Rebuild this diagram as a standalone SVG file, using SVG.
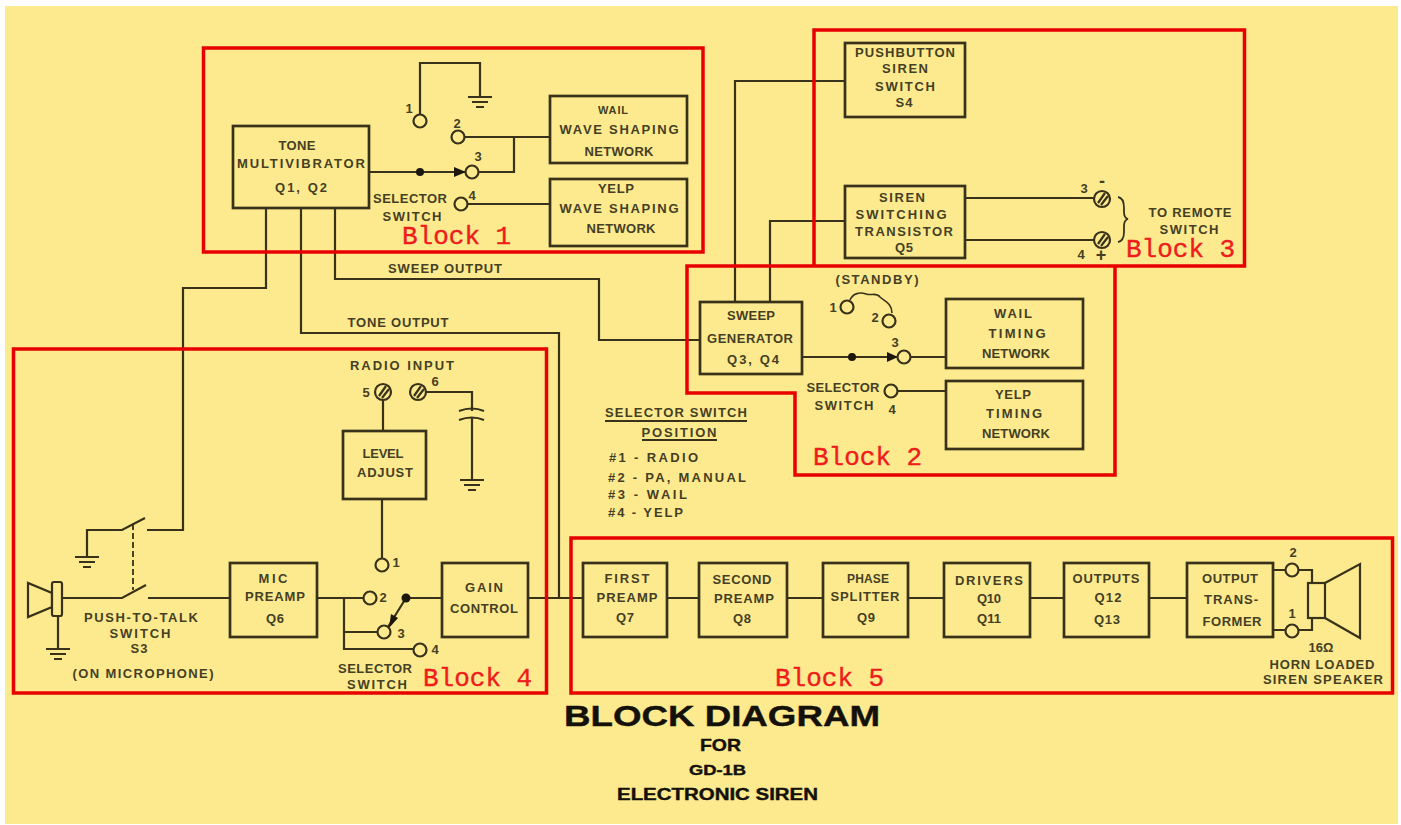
<svg xmlns="http://www.w3.org/2000/svg" width="1401" height="825" viewBox="0 0 1401 825">
<style>
.b{fill:none;stroke:#38321a;stroke-width:2.7}
.w{fill:none;stroke:#38321a;stroke-width:2.2;stroke-linejoin:miter}
.c{fill:#fdea8e;stroke:#38321a;stroke-width:2.2}
.d{fill:#1c180c}
.r{fill:none;stroke:#e80000;stroke-width:3.5}
text{font-family:"Liberation Sans",Arial,sans-serif;font-weight:700;font-size:13px;fill:#453f24;text-anchor:middle}
text.l{text-anchor:start}
text.k{font-family:"Liberation Mono","Courier New",monospace;font-weight:400;font-size:26px;fill:#ee1c1c;stroke:#ee1c1c;stroke-width:.4;text-anchor:start}
text.t{fill:#14110a;stroke:#14110a;stroke-width:.4;text-anchor:start}
</style>
<defs>
<g id="gnd"><path class="w" d="M-12 0H12M-8 5H8M-4 10H4"/></g>
<g id="screw"><circle class="c" r="8"/><path class="w" d="M-4 4L3-6M-1 6L6-3"/></g>
</defs>
<rect width="1401" height="825" fill="#ffffff"/>
<rect x="5" y="6" width="1393" height="818" fill="#fdea8e"/>

<g id="connectors">
<path class="w" d="M266 208V288H183V530H147M301 208V333H559V598M335 208V279H599V340H700"/>
<path class="w" d="M420 115V63H480V97M464 137H550M514 137V172H478M369 172H466M467 204H550"/>
<path class="w" d="M845 81H735V302M845 221H770V302M965 198H1095M965 240H1095"/>
<path class="w" d="M802 357H898M910 357H946M897 391H946"/>
<path class="w" d="M850 300C853 293 860 292 866 294C872 296 876 292 880 297C884 301 892 303 892 313" style="stroke-width:1.6"/>
<path class="w" d="M62 598H122L146 585M148 598H230M58 616V649M87 557V530H122L145 518"/>
<path class="w" d="M133 524V590" stroke-dasharray="6 3" style="stroke-width:1.8"/>
<path class="w" d="M383 400V431M426 392H472V411M472 418V480M382 499V559"/>
<path class="w" d="M459 411Q472 406 484 411M459 420Q472 415 484 420"/>
<path class="w" d="M317 598H364M344 598V649H414M344 632H378M406 598L388 627M406 598H442M528 598H583"/>
<path class="w" d="M667 598H699M787 598H823M908 598H944M1030 598H1064M1149 598H1187"/>
<path class="w" d="M1273 570H1286M1298 570H1312V583M1273 630H1286M1298 630H1312V618"/>
<path class="w" d="M1118 197Q1124 198 1124 208V212Q1124 218 1128 219Q1124 220 1124 226V232Q1124 241 1118 242" style="stroke-width:1.8"/>
<path class="w" d="M605 421H747M642 440H717"/>
<circle class="d" cx="420" cy="172" r="4"/><path class="d" d="M454 167L466 172L454 177Z"/>
<circle class="d" cx="852" cy="357" r="4"/><path class="d" d="M887 352L898 357L887 362Z"/>
<circle class="d" cx="406" cy="598" r="4.500"/><path class="d" d="M391 614L398 618L389 628Z"/>
<use href="#gnd" x="480" y="97"/><use href="#gnd" x="87" y="557"/><use href="#gnd" x="58" y="649"/><use href="#gnd" x="472" y="480"/>
</g>

<g id="terminals">
<circle class="c" cx="420" cy="121" r="6.500"/><circle class="c" cx="458" cy="137" r="6.500"/><circle class="c" cx="472" cy="172" r="6.500"/><circle class="c" cx="461" cy="204" r="6.500"/>
<circle class="c" cx="847" cy="307" r="6.500"/><circle class="c" cx="889" cy="321" r="6.500"/><circle class="c" cx="904" cy="357" r="6.500"/><circle class="c" cx="891" cy="391" r="6.500"/>
<circle class="c" cx="382" cy="565" r="6.500"/><circle class="c" cx="370" cy="598" r="6.500"/><circle class="c" cx="384" cy="632" r="6.500"/><circle class="c" cx="420" cy="650" r="6.500"/>
<circle class="c" cx="1292" cy="570" r="6.500"/><circle class="c" cx="1292" cy="631" r="6.500"/>
<use href="#screw" x="1102" y="199"/><use href="#screw" x="1102" y="240"/><use href="#screw" x="383" y="392"/><use href="#screw" x="418" y="392"/>
</g>

<g id="tone-multivibrator"><rect class="b" x="233" y="126" width="136" height="82"/>
<text x="297" y="150" textLength="37">TONE</text><text x="301" y="168" textLength="128">MULTIVIBRATOR</text><text x="301" y="192" textLength="52">Q1, Q2</text></g>
<g id="wail-wave-shaping"><rect class="b" x="550" y="96" width="137" height="67"/>
<text x="613" y="114" style="font-size:11px" textLength="30">WAIL</text><text x="619" y="134" textLength="119">WAVE SHAPING</text><text x="619" y="156" textLength="69">NETWORK</text></g>
<g id="yelp-wave-shaping"><rect class="b" x="550" y="179" width="137" height="67"/>
<text x="616" y="193" textLength="36">YELP</text><text x="619" y="213" textLength="119">WAVE SHAPING</text><text x="621" y="233" textLength="69">NETWORK</text></g>
<g id="pushbutton-siren-switch"><rect class="b" x="845" y="43" width="120" height="74"/>
<text x="905" y="57" textLength="100">PUSHBUTTON</text><text x="905" y="73" textLength="46">SIREN</text><text x="905" y="91" textLength="60">SWITCH</text><text x="904" y="107" textLength="17">S4</text></g>
<g id="siren-switching-transistor"><rect class="b" x="845" y="186" width="120" height="72"/>
<text x="902" y="202" textLength="46">SIREN</text><text x="901" y="219" textLength="91">SWITCHING</text><text x="904" y="236" textLength="98">TRANSISTOR</text><text x="904" y="252" textLength="18">Q5</text></g>
<g id="sweep-generator"><rect class="b" x="700" y="302" width="102" height="72"/>
<text x="751" y="320" textLength="48">SWEEP</text><text x="750" y="343" textLength="86">GENERATOR</text><text x="753" y="364" textLength="52">Q3, Q4</text></g>
<g id="wail-timing"><rect class="b" x="946" y="299" width="137" height="69"/>
<text x="1013" y="318" textLength="38">WAIL</text><text x="1017" y="338" textLength="57">TIMING</text><text x="1016" y="358" textLength="68">NETWORK</text></g>
<g id="yelp-timing"><rect class="b" x="946" y="381" width="137" height="68"/>
<text x="1013" y="399" textLength="36">YELP</text><text x="1014" y="418" textLength="56">TIMING</text><text x="1016" y="438" textLength="68">NETWORK</text></g>
<g id="mic-preamp"><rect class="b" x="230" y="563" width="87" height="74"/>
<text x="273" y="583" textLength="29">MIC</text><text x="275" y="601" textLength="60">PREAMP</text><text x="275" y="623" textLength="18">Q6</text></g>
<g id="level-adjust"><rect class="b" x="343" y="431" width="83" height="68"/>
<text x="383" y="458" textLength="41">LEVEL</text><text x="385" y="477" textLength="56">ADJUST</text></g>
<g id="gain-control"><rect class="b" x="442" y="563" width="86" height="74"/>
<text x="484" y="592" textLength="38">GAIN</text><text x="484" y="613" textLength="68">CONTROL</text></g>
<g id="first-preamp"><rect class="b" x="583" y="563" width="84" height="74"/>
<text x="627" y="583" textLength="45">FIRST</text><text x="627" y="602" textLength="61">PREAMP</text><text x="625" y="622" textLength="18">Q7</text></g>
<g id="second-preamp"><rect class="b" x="699" y="563" width="88" height="74"/>
<text x="742" y="584" textLength="59">SECOND</text><text x="744" y="603" textLength="60">PREAMP</text><text x="742" y="623" textLength="18">Q8</text></g>
<g id="phase-splitter"><rect class="b" x="823" y="563" width="85" height="74"/>
<text x="868" y="583" style="font-size:12px" textLength="42">PHASE</text><text x="865" y="601" textLength="69">SPLITTER</text><text x="866" y="622" textLength="18">Q9</text></g>
<g id="drivers"><rect class="b" x="944" y="563" width="86" height="74"/>
<text x="989" y="585" textLength="68">DRIVERS</text><text x="989" y="603" textLength="24">Q10</text><text x="989" y="623" textLength="24">Q11</text></g>
<g id="outputs"><rect class="b" x="1064" y="563" width="85" height="74"/>
<text x="1106" y="583" textLength="67">OUTPUTS</text><text x="1108" y="602" textLength="27">Q12</text><text x="1107" y="624" textLength="26">Q13</text></g>
<g id="output-transformer"><rect class="b" x="1187" y="563" width="86" height="74"/>
<text x="1230" y="583" textLength="56">OUTPUT</text><text x="1231" y="604" textLength="54">TRANS-</text><text x="1232" y="626" textLength="59">FORMER</text></g>
<g id="speaker"><path class="w" d="M1325 583L1360 564V638L1325 618"/><rect class="w" x="1308" y="583" width="17" height="35"/></g>
<g id="microphone"><path class="w" d="M28 583V617L52 607V593Z"/><rect class="c" x="52" y="582" width="10" height="34" rx="2"/></g>

<g id="labels">
<text x="409" y="113">1</text><text x="457" y="128">2</text><text x="478" y="161">3</text><text x="472" y="200">4</text>
<text x="410" y="203" textLength="74">SELECTOR</text><text x="412" y="221" textLength="59">SWITCH</text>
<text x="445" y="273" textLength="114">SWEEP OUTPUT</text><text x="398" y="327" textLength="101">TONE OUTPUT</text>
<text x="1084" y="193">3</text><text x="1102" y="187" style="font-size:18px">-</text><text x="1081" y="259">4</text><text x="1101" y="261" style="font-size:18px">+</text>
<text x="1190" y="217" textLength="83">TO REMOTE</text><text x="1189" y="234" textLength="59">SWITCH</text>
<text x="877" y="284" textLength="83">(STANDBY)</text><text x="833" y="312">1</text><text x="875" y="322">2</text><text x="895" y="347">3</text><text x="892" y="414">4</text>
<text x="843" y="392" textLength="73">SELECTOR</text><text x="844" y="410" textLength="59">SWITCH</text>
<text x="141" y="622" textLength="114">PUSH-TO-TALK</text><text x="140" y="638" textLength="61">SWITCH</text><text x="139" y="653" textLength="17">S3</text><text x="143" y="678" textLength="141">(ON MICROPHONE)</text>
<text x="402" y="370" textLength="104">RADIO INPUT</text><text x="366" y="397">5</text><text x="435" y="386">6</text>
<text x="396" y="567">1</text><text x="383" y="602">2</text><text x="401" y="638">3</text><text x="435" y="654">4</text>
<text x="375" y="673" textLength="74">SELECTOR</text><text x="377" y="689" textLength="60">SWITCH</text>
<text x="676" y="417" textLength="142">SELECTOR SWITCH</text><text x="679" y="437" textLength="75">POSITION</text>
<text class="l" x="609" y="462" textLength="89">#1 - RADIO</text><text class="l" x="608" y="482" textLength="138">#2 - PA, MANUAL</text><text class="l" x="608" y="499" textLength="79">#3 - WAIL</text><text class="l" x="608" y="517" textLength="75">#4 - YELP</text>
<text x="1293" y="557">2</text><text x="1292" y="618">1</text>
<text x="1321" y="652" textLength="25">16Ω</text><text x="1322" y="669" textLength="105">HORN LOADED</text><text x="1323" y="684" textLength="120">SIREN SPEAKER</text>
<text class="t" x="564" y="726" textLength="316" lengthAdjust="spacingAndGlyphs" style="font-size:30px">BLOCK DIAGRAM</text>
<text class="t" x="700" y="751" textLength="41" lengthAdjust="spacingAndGlyphs" style="font-size:17px">FOR</text>
<text class="t" x="689" y="775" textLength="57" lengthAdjust="spacingAndGlyphs" style="font-size:15px">GD-1B</text>
<text class="t" x="617" y="800" textLength="201" lengthAdjust="spacingAndGlyphs" style="font-size:16px">ELECTRONIC SIREN</text>
</g>

<g id="blocks">
<rect class="r" x="203.500" y="48" width="499.500" height="204"/>
<path class="r" d="M814 266V30H1244.500V266H687V393H795V475H1115V266"/>
<rect class="r" x="13.500" y="349" width="533" height="344"/>
<rect class="r" x="571" y="538" width="821.500" height="155"/>
<text class="k" x="402" y="244">Block 1</text><text class="k" x="813" y="465">Block 2</text><text class="k" x="1126" y="257">Block 3</text><text class="k" x="423" y="686">Block 4</text><text class="k" x="775" y="686">Block 5</text>
</g>
</svg>
